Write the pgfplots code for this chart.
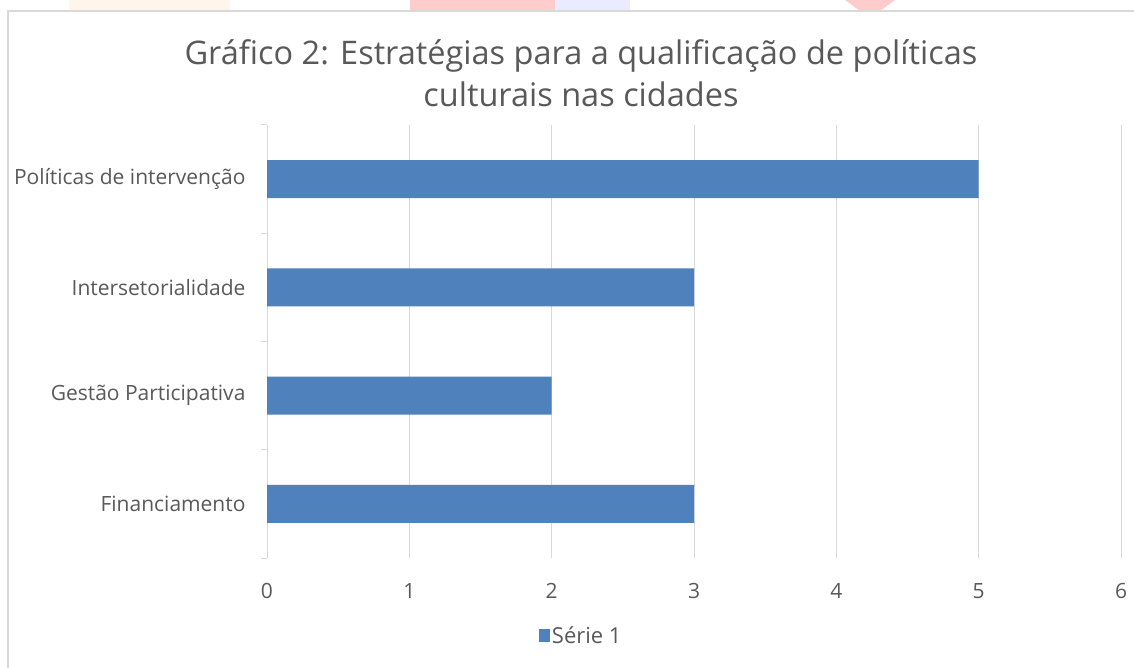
\documentclass[border=0pt]{standalone}
\usepackage{pgfplots}
\pgfplotsset{compat=1.18}
\usepackage{fontspec}
\setmainfont{Open Sans}
\definecolor{txt}{HTML}{595959}
\definecolor{gridc}{HTML}{D9D9D9}
\definecolor{barc}{HTML}{4F81BD}
\begin{document}
\begin{tikzpicture}
\useasboundingbox (0,0) rectangle (1134bp,668bp);
% faint background marks above the chart frame
\fill[color=orange!8] (69bp,657bp) rectangle (230bp,668bp);
\fill[color=red!20] (410bp,657bp) rectangle (555bp,668bp);
\fill[color=blue!8] (555bp,657bp) rectangle (630bp,668bp);
\fill[color=red!20] (845bp,668bp) -- (895bp,668bp) -- (880bp,657bp) -- (860bp,657bp) -- cycle;
\fill[white] (8bp,0) rectangle (1134bp,657bp);
\draw[color=gridc, line width=1.2bp] (8bp,0) -- (8bp,657bp) -- (1134bp,657bp);
\node[anchor=base, text=txt, font=\fontsize{32.5bp}{38bp}\selectfont, inner sep=0pt] at (581bp,603bp) {Gráfico 2: Estratégias para a qualificação de políticas};
\node[anchor=base, text=txt, font=\fontsize{32.5bp}{38bp}\selectfont, inner sep=0pt] at (581bp,561bp) {culturais nas cidades};
\begin{axis}[
  at={(267bp,110bp)}, anchor=south west,
  scale only axis, width=854bp, height=433bp,
  xbar, bar width=38bp,
  xmin=0, xmax=6, ymin=-0.5, ymax=3.5,
  xtick={0,1,2,3,4,5,6},
  ytick={0,1,2,3},
  yticklabels={Financiamento,Gestão Participativa,Intersetorialidade,Políticas de intervenção},
  major tick length=0pt,
  xmajorgrids, grid style={color=gridc, line width=1bp},
  axis line style={draw=none},
  axis y line*=left,
  separate axis lines,
  y axis line style={draw=gridc, line width=1bp},
  extra y ticks={-0.5,0.5,1.5,2.5,3.5},
  extra y tick labels={},
  extra y tick style={major tick length=6bp, tick align=outside, tick style={color=gridc, line width=1bp}, ymajorgrids=false},
  tick label style={text=txt, font=\fontsize{21bp}{25bp}\selectfont},
  /pgf/number format/assume math mode=true,
  xticklabel style={yshift=-22bp},
  yticklabel style={xshift=-18bp},
  legend style={at={(0.368,-0.18)}, anchor=center, draw=none, fill=none, text=txt, font=\fontsize{22bp}{26bp}\selectfont, legend cell align=left},
  legend image code/.code={\fill[#1] (0bp,-6.5bp) rectangle (11bp,6.5bp);},
]
\addplot[fill=barc, draw=none] coordinates {(3,0) (2,1) (3,2) (5,3)};
\addlegendentry{Série 1}
\end{axis}
\end{tikzpicture}
\end{document}
